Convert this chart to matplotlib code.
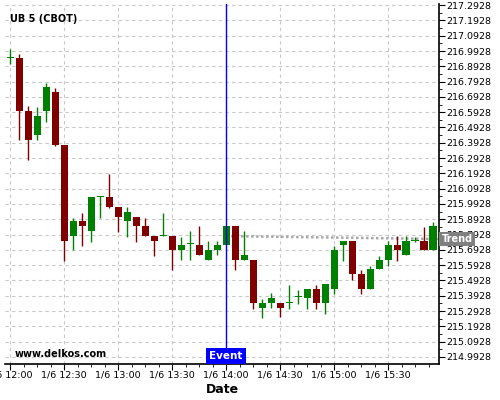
import numpy as np
import pandas as pd
import matplotlib
matplotlib.use("Agg")
import matplotlib.pyplot as plt
import matplotlib.dates as mdates
from matplotlib.ticker import AutoMinorLocator, FuncFormatter, MultipleLocator

# 5-minute bars, 1/6 12:00 .. 15:55
times = pd.date_range("2024-01-06 12:00", periods=48, freq="5min")
opens = [216.949, 216.944, 216.600, 216.443, 216.600, 216.722, 216.378, 215.781,
         215.879, 215.814, 216.041, 216.036, 215.971, 215.879, 215.906, 215.847,
         215.781, 215.785, 215.781, 215.692, 215.731, 215.723, 215.627, 215.692,
         215.723, 215.847, 215.627, 215.627, 215.315, 215.346, 215.344, 215.348,
         215.383, 215.378, 215.435, 215.346, 215.437, 215.725, 215.749, 215.533,
         215.437, 215.566, 215.624, 215.723, 215.657, 215.751, 215.749, 215.689]
closes = [216.949, 216.600, 216.410, 216.566, 216.755, 216.378, 215.751, 215.879,
          215.849, 216.036, 216.041, 215.971, 215.907, 215.938, 215.849, 215.781,
          215.751, 215.785, 215.692, 215.723, 215.731, 215.660, 215.692, 215.723,
          215.847, 215.624, 215.657, 215.346, 215.344, 215.376, 215.313, 215.348,
          215.383, 215.435, 215.346, 215.468, 215.689, 215.749, 215.535, 215.437,
          215.566, 215.624, 215.723, 215.689, 215.749, 215.751, 215.689, 215.847]
highs = [217.008, 216.975, 216.631, 216.630, 216.786, 216.753, 216.378, 215.904,
         215.936, 216.036, 216.045, 216.191, 215.971, 215.970, 215.906, 215.904,
         215.781, 215.936, 215.781, 215.777, 215.814, 215.847, 215.751, 215.751,
         215.847, 215.847, 215.814, 215.627, 215.374, 215.409, 215.344, 215.466,
         215.433, 215.435, 215.466, 215.468, 215.718, 215.749, 215.749, 215.564,
         215.590, 215.655, 215.751, 215.781, 215.781, 215.777, 215.845, 215.875]
lows = [216.910, 216.409, 216.283, 216.410, 216.531, 216.370, 215.620, 215.690,
        215.720, 215.747, 215.904, 215.966, 215.810, 215.776, 215.744, 215.781,
        215.655, 215.785, 215.564, 215.624, 215.624, 215.660, 215.627, 215.660,
        215.723, 215.564, 215.627, 215.309, 215.250, 215.311, 215.252, 215.309,
        215.342, 215.309, 215.309, 215.274, 215.407, 215.622, 215.498, 215.404,
        215.437, 215.566, 215.590, 215.622, 215.657, 215.744, 215.689, 215.689]

event_time = pd.Timestamp("2024-01-06 14:00")
trend_times = [pd.Timestamp("2024-01-06 14:00"), pd.Timestamp("2024-01-06 15:59")]
trend_values = [215.783, 215.764]

x_start = pd.Timestamp("2024-01-06 11:57:10")
x_end = pd.Timestamp("2024-01-06 15:58:20")

fig = plt.figure(figsize=(5, 4), dpi=100)
ax = fig.add_axes([0.01, 0.09, 0.868, 0.90])

x = mdates.date2num(times)
o = np.array(opens)
c = np.array(closes)
up = c >= o
colors = np.where(up, "#008000", "#800000")
body_w = 3.9 / (24 * 60)

ax.vlines(x, lows, highs, colors=colors, linewidth=1, zorder=3)
height = np.maximum(np.abs(c - o), 0.007)
bottom = np.minimum(o, c)
ax.bar(x, height, width=body_w, bottom=bottom, color=colors, linewidth=0, zorder=4)

ax.plot(mdates.date2num(trend_times), trend_values, color="#a8a8a8",
        linestyle=(0, (1, 1)), linewidth=1.8, zorder=2)
ax.axvline(mdates.date2num(event_time), color="#0000ff", linewidth=1, zorder=5)

ax.set_xlim(mdates.date2num(x_start), mdates.date2num(x_end))
ax.set_ylim(214.947, 217.300)

ax.yaxis.tick_right()
ax.yaxis.set_major_locator(MultipleLocator(0.1, offset=0.0928))
ax.yaxis.set_major_formatter(FuncFormatter(lambda v, p: f"{v:.4f}"))
ax.yaxis.set_minor_locator(AutoMinorLocator(2))

ax.xaxis.set_major_locator(mdates.MinuteLocator(byminute=[0, 30]))
ax.xaxis.set_major_formatter(FuncFormatter(
    lambda v, p: (lambda d: f"{d.month}/{d.day} {d:%H:%M}")(mdates.num2date(v))))
ax.xaxis.set_minor_locator(AutoMinorLocator(4))

ax.tick_params(axis="both", which="major", labelsize=6.8, length=4, width=0.8, pad=1)
ax.tick_params(axis="both", which="minor", length=2, width=0.6)

ax.grid(True, which="major", color="#c8c8c8", linestyle=(0, (3, 3)), linewidth=0.8)
ax.set_axisbelow(True)
for s in ["top", "left"]:
    ax.spines[s].set_visible(False)
ax.spines["right"].set_linewidth(1.2)
ax.spines["bottom"].set_linewidth(1.2)

ax.set_xlabel("Date", fontsize=9, fontweight="bold", labelpad=2)

ax.text(0.012, 0.972, "UB 5 (CBOT)", transform=ax.transAxes, fontsize=7,
        fontweight="bold", va="top", ha="left")
ax.text(0.023, 0.028, "www.delkos.com", transform=ax.transAxes, fontsize=7,
        fontweight="bold", va="center", ha="left")

ax.annotate("Event", xy=(mdates.date2num(event_time), 0.0), xycoords=("data", "axes fraction"),
            xytext=(0, 5.5), textcoords="offset points", ha="center", va="center",
            fontsize=7.5, fontweight="bold", color="white",
            bbox=dict(boxstyle="square,pad=0.3", fc="#0000ff", ec="none"), zorder=6)
ax.annotate("Trend", xy=(1.0, trend_values[-1]), xycoords=("axes fraction", "data"),
            xytext=(2, 0), textcoords="offset points", ha="left", va="center",
            fontsize=7, fontweight="bold", color="white",
            bbox=dict(boxstyle="square,pad=0.25", fc="#808080", ec="none"),
            zorder=6, annotation_clip=False)

fig.savefig("out.png", dpi=100)
